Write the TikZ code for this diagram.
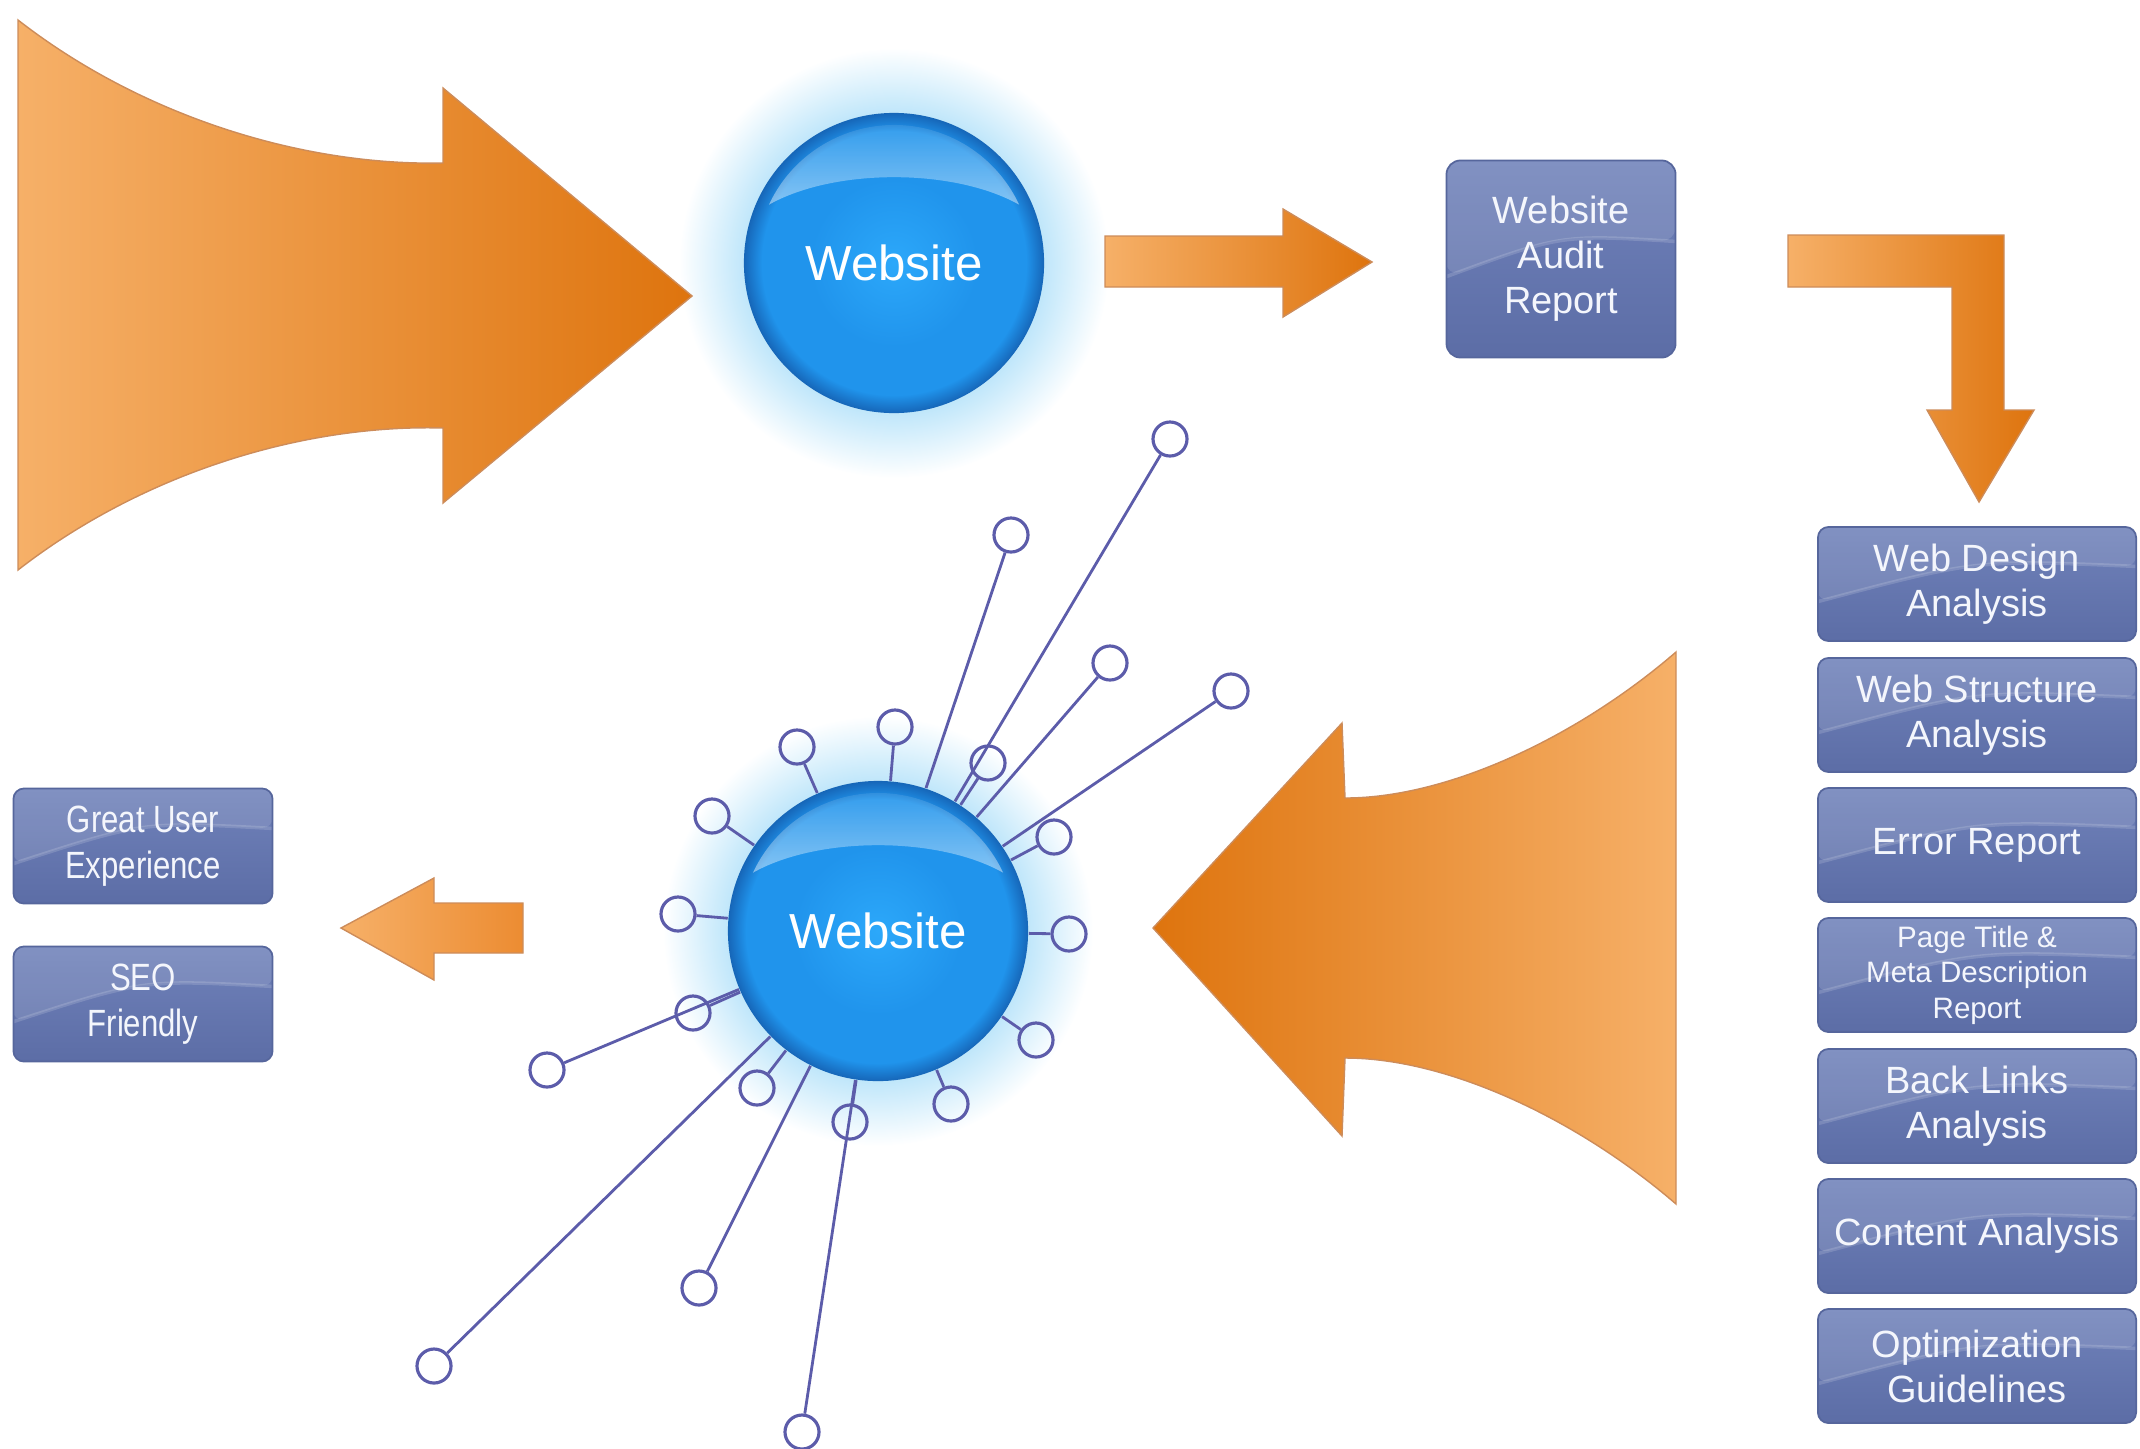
\documentclass[tikz,border=0pt]{standalone}
\usepackage{fontspec}
\setmainfont{Liberation Sans}
\newfontfamily\narrowsans[FakeStretch=0.82]{Liberation Sans}
\usetikzlibrary{calc,fadings}

\definecolor{orlight}{RGB}{246,176,104}
\definecolor{ormid}{RGB}{236,140,50}
\definecolor{ordark}{RGB}{222,116,14}
\definecolor{orline}{RGB}{205,140,90}
\definecolor{boxtop}{RGB}{112,130,186}
\definecolor{boxmid}{RGB}{101,119,177}
\definecolor{boxbot}{RGB}{92,109,166}
\definecolor{boxedge}{RGB}{86,102,156}
\definecolor{boxtext}{RGB}{244,246,252}
\definecolor{ballin}{RGB}{44,168,250}
\definecolor{ballmid}{RGB}{32,148,236}
\definecolor{ballrim}{RGB}{22,102,184}
\definecolor{glowc}{RGB}{188,229,250}
\definecolor{spokec}{RGB}{92,92,170}

\pgfdeclareradialshading{glowshade}{\pgfpoint{0bp}{0bp}}{color(0bp)=(glowc); color(17bp)=(glowc); color(25bp)=(white); color(50bp)=(white)}
\pgfdeclareradialshading{ballshade}{\pgfpoint{0bp}{0bp}}{color(0bp)=(ballin); color(14bp)=(ballmid); color(22bp)=(ballmid); color(25bp)=(ballrim); color(50bp)=(ballrim)}

\tikzset{
  ball/.style={circle, minimum size=3cm, inner sep=0pt, shade, shading=ballshade,
    text=white, font=\fontsize{14}{16}\selectfont},
  infobox/.style={rectangle, rounded corners=3pt, draw=boxedge, line width=0.5pt,
    top color=boxtop, middle color=boxmid, bottom color=boxbot, text=boxtext,
    align=center, inner sep=0pt, font=\fontsize{10.8}{12.8}\selectfont,
    path picture={
      \fill[white, fill opacity=0.12] ([yshift=-5pt]path picture bounding box.west)
        .. controls ([yshift=7pt]path picture bounding box.center) .. ([yshift=5pt]path picture bounding box.east)
        -- (path picture bounding box.north east)
        -- (path picture bounding box.north west) -- cycle;
      \draw[white, opacity=0.15, line width=1pt] ([yshift=-5pt]path picture bounding box.west)
        .. controls ([yshift=7pt]path picture bounding box.center) .. ([yshift=5pt]path picture bounding box.east);}},
  sidebox/.style={infobox, minimum width=3.18cm, minimum height=1.14cm},
  leftbox/.style={infobox, minimum width=2.59cm, minimum height=1.15cm,
    font=\narrowsans\fontsize{10.8}{13.2}\selectfont},
  dot/.style={circle, draw=spokec, line width=0.9pt, minimum size=0.34cm, inner sep=0pt},
  spoke/.style={draw=spokec, line width=0.8pt},
  orarrow/.style={draw=orline, line width=0.4pt},
}

\begin{document}
\begin{tikzpicture}[x=0.01cm, y=-0.01cm]
\useasboundingbox (0,0) rectangle (2140,1448);

%glow round the two balls
\shade[shading=glowshade] (894,263) circle[radius=215];
\shade[shading=glowshade] (878,931) circle[radius=215];

%big arrows
\draw[orarrow, left color=orlight, right color=ordark] (18,20) .. controls (140,115) and (300,166) .. (443,163)
  -- (443,88) -- (692,296) -- (443,503) -- (443,428) .. controls (300,424) and (140,475) .. (18,570) -- cycle;
\draw[orarrow, left color=ordark, right color=orlight] (1676,652) .. controls (1580,735) and (1450,798) .. (1345,798)
  -- (1342,723) -- (1153,928) -- (1342,1136) -- (1345,1058) .. controls (1450,1058) and (1580,1121) .. (1676,1204) -- cycle;

%small arrows
\draw[orarrow, left color=orlight, right color=ordark] (1105,236) -- (1283,236) -- (1283,209) -- (1372,262)
  -- (1283,317) -- (1283,287) -- (1105,287) -- cycle;
\draw[orarrow, left color=orlight, right color=ordark] (1788,235) -- (2004,235) -- (2004,410) -- (2034,410)
  -- (1979,502) -- (1927,410) -- (1952,410) -- (1952,287) -- (1788,287) -- cycle;
\draw[orarrow, left color=orlight, right color=ormid] (341,928) -- (434,878) -- (434,903) -- (523,903)
  -- (523,953) -- (434,953) -- (434,980) -- cycle;

%balls
\node[ball] (site) at (894,263) {Website};
\node[ball] (hub) at (878,931) {Website};
\foreach \b in {site,hub}{
  \fill[white, fill opacity=0.45, path fading=north] ($(\b)+(205:138)$) arc[start angle=205, end angle=335, radius=138]
    .. controls ($(\b)+(60,-95)$) and ($(\b)+(-60,-95)$) .. ($(\b)+(205:138)$) -- cycle;
}

%links round the hub
\foreach \n/\x/\y in {a/1170/439, b/1011/535, c/1110/663, d/1231/691, e/988/763, f/895/727,
    g/797/747, h/712/816, i/678/914, j/693/1013, k/547/1070, l/757/1088, m/434/1366,
    n/699/1288, o/850/1122, p/802/1432, q/951/1104, r/1036/1040, s/1069/934, t/1054/837}{
  \node[dot] (\n) at (\x,\y) {};
  \draw[spoke] (hub) -- (\n);
}

%report boxes
\node[infobox, minimum width=2.29cm, minimum height=1.97cm, rounded corners=4pt] (audit) at (1561,259) {Website\\Audit\\Report};

\node[sidebox] (design) at (1977,584) {Web Design\\Analysis};
\node[sidebox] (structure) at (1977,715) {Web Structure\\Analysis};
\node[sidebox] (errors) at (1977,845) {Error Report};
\node[sidebox, font=\fontsize{8.4}{10.1}\selectfont] (meta) at (1977,975) {Page Title \&\\Meta Description\\Report};
\node[sidebox] (backlinks) at (1977,1106) {Back Links\\Analysis};
\node[sidebox] (content) at (1977,1236) {Content Analysis};
\node[sidebox] (guide) at (1977,1366) {Optimization\\Guidelines};

%results
\node[leftbox] (ux) at (143,846) {Great User\\Experience};
\node[leftbox] (seo) at (143,1004) {SEO\\Friendly};
\end{tikzpicture}
\end{document}
